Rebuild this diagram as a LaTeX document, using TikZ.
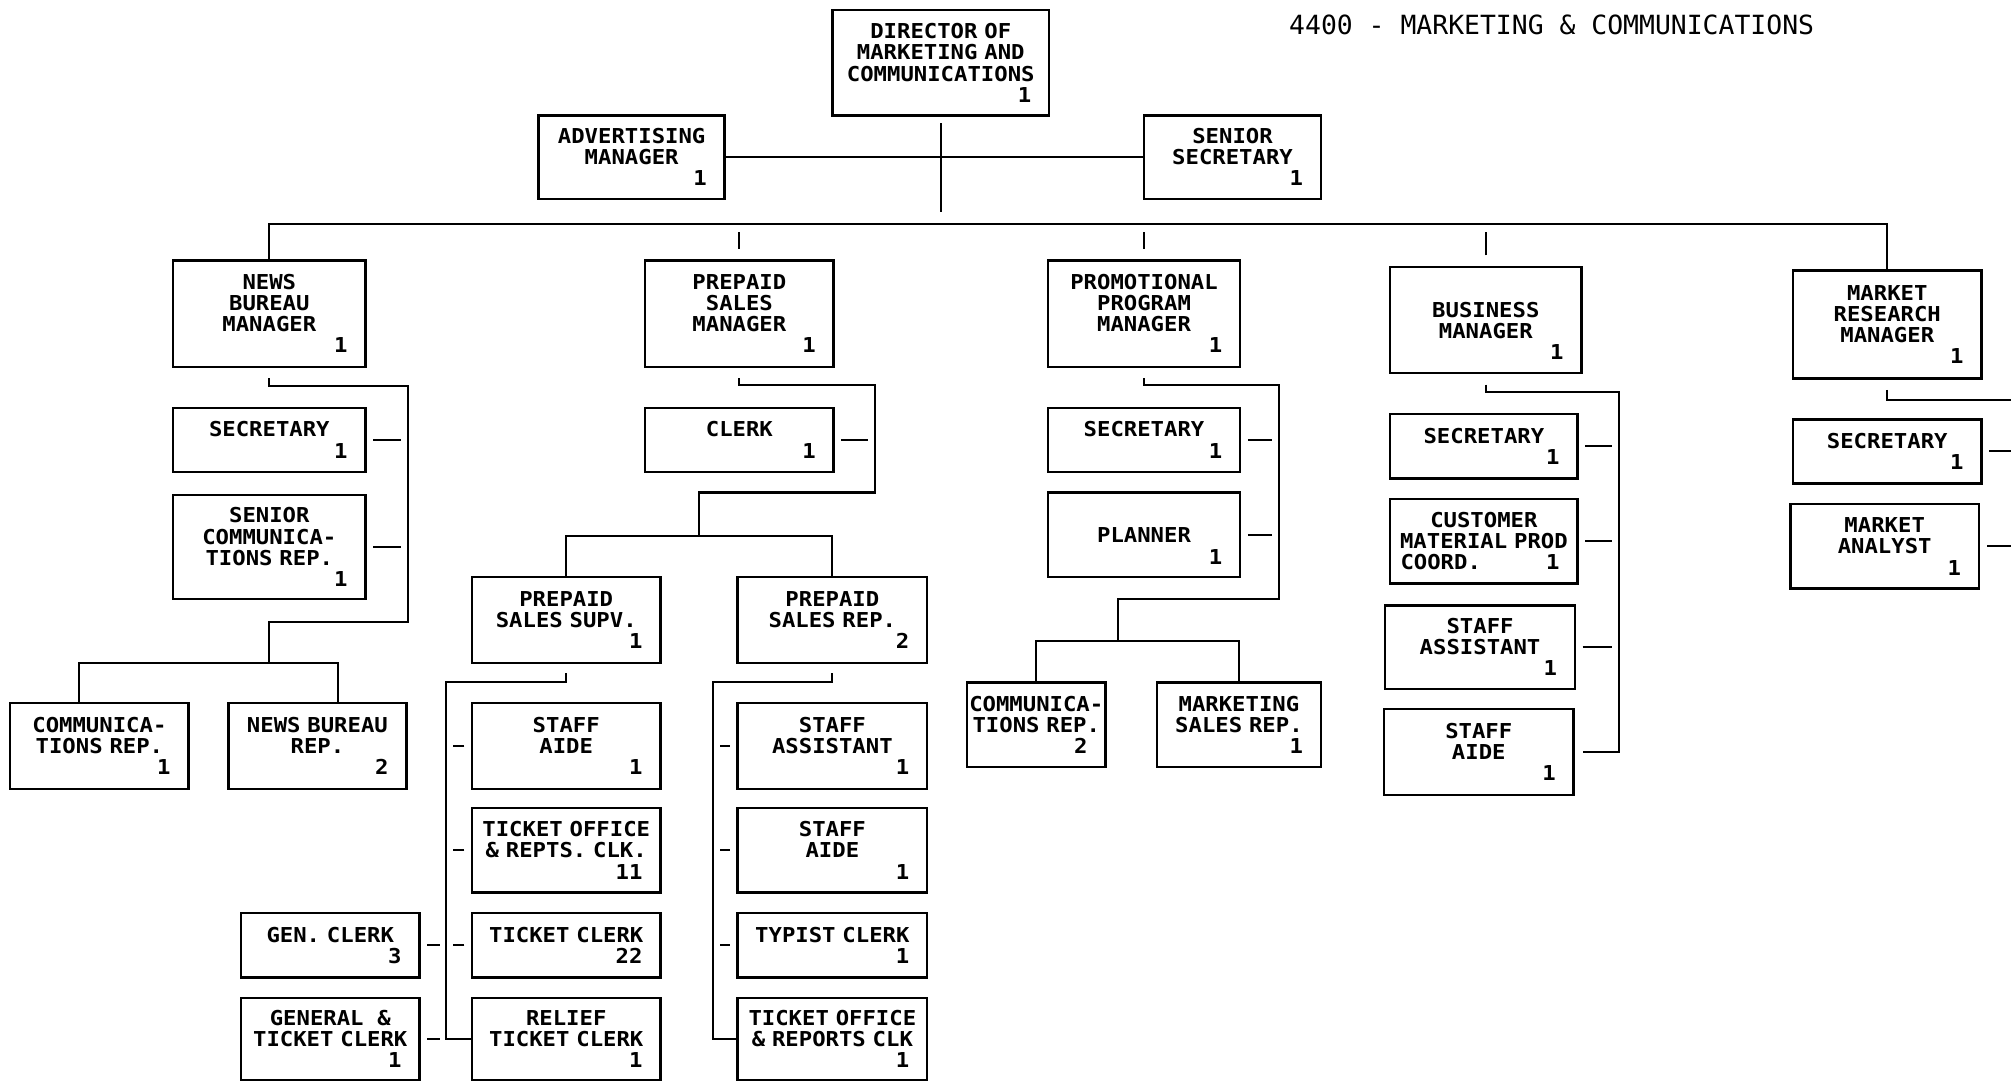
\documentclass[tikz,border=0pt]{standalone}
\usepackage{fontspec}
\newfontfamily\boxfont[FakeStretch=1.085]{DejaVu Sans Mono}
\newfontfamily\titlefont{DejaVu Sans Mono}
\newcommand\posts[1]{\hfill#1\kern14pt}

\begin{document}
\begin{tikzpicture}[x=1pt,y=-1pt,
    box/.style 2 args={draw, line width=1.9pt, minimum width=#1pt, minimum height=#2pt,
      text width=#1pt, inner xsep=0pt, inner ysep=0pt, align=center,
      font=\boxfont\bfseries\fontsize{16}{16.5}\selectfont},
    tick/.style={shorten <=5pt, shorten >=5pt}]
  \useasboundingbox (0,0) rectangle (1568,844);
  \clip (0,0) rectangle (1568,844);

  \node[font=\titlefont\fontsize{20.6}{24}\selectfont, anchor=base west, inner sep=0pt]
    (title) at (1005,27) {4400 - MARKETING \& COMMUNICATIONS};

  % top
  \node[box={169}{82}] (dir) at (733.5,49) {DIRECTOR OF\\MARKETING AND\\COMMUNICATIONS\\\posts{1}};
  \node[box={145}{65}] (adv) at (492.5,122.5) {ADVERTISING\\MANAGER\\\posts{1}};
  \node[box={138}{65}] (ssec) at (961,122.5) {SENIOR\\SECRETARY\\\posts{1}};

  % managers
  \node[box={150}{83}] (nbm) at (210,244.5) {NEWS\\BUREAU\\MANAGER\\\posts{1}};
  \node[box={147}{83}] (ppm) at (576.5,244.5) {PREPAID\\SALES\\MANAGER\\\posts{1}};
  \node[box={150}{83}] (prm) at (892,244.5) {PROMOTIONAL\\PROGRAM\\MANAGER\\\posts{1}};
  \node[box={149}{83}] (bsm) at (1158.5,249.5) {\strut\\BUSINESS\\MANAGER\\\posts{1}};
  \node[box={147}{84}] (mrm) at (1471.5,253) {MARKET\\RESEARCH\\MANAGER\\\posts{1}};

  % news bureau
  \node[box={150}{50}] (nsec) at (210,343) {SECRETARY\\\posts{1}};
  \node[box={150}{81}] (nscr) at (210,426.5) {SENIOR\\COMMUNICA-\\TIONS REP.\\\posts{1}};
  \node[box={139}{67}] (ncr) at (77.5,581.5) {COMMUNICA-\\TIONS REP.\\\posts{1}};
  \node[box={139}{67}] (nbr) at (247.5,581.5) {NEWS BUREAU\\REP.\\\posts{2}};

  % prepaid sales
  \node[box={147}{50}] (pclk) at (576.5,343) {CLERK\\\posts{1}};
  \node[box={147}{67}] (psup) at (441.5,483.5) {PREPAID\\SALES SUPV.\\\posts{1}};
  \node[box={148}{67}] (prep) at (649,483.5) {PREPAID\\SALES REP.\\\posts{2}};
  \node[box={147}{67}] (sa1) at (441.5,581.5) {STAFF\\AIDE\\\posts{1}};
  \node[box={147}{66}] (tor) at (441.5,663) {TICKET OFFICE\\\& REPTS. CLK.\\\posts{11}};
  \node[box={147}{50}] (tc) at (441.5,737) {TICKET CLERK\\\posts{22}};
  \node[box={147}{64}] (rtc) at (441.5,810) {RELIEF\\TICKET CLERK\\\posts{1}};
  \node[box={139}{50}] (gc) at (257.5,737) {GEN. CLERK\\\posts{3}};
  \node[box={139}{64}] (gtc) at (257.5,810) {GENERAL~~\&\\TICKET CLERK\\\posts{1}};
  \node[box={148}{67}] (sas) at (649,581.5) {STAFF\\ASSISTANT\\\posts{1}};
  \node[box={148}{66}] (sa2) at (649,663) {STAFF\\AIDE\\\posts{1}};
  \node[box={148}{50}] (tyc) at (649,737) {TYPIST CLERK\\\posts{1}};
  \node[box={148}{64}] (trc) at (649,810) {TICKET OFFICE\\\& REPORTS CLK\\\posts{1}};

  % promotional program
  \node[box={150}{50}] (psec) at (892,343) {SECRETARY\\\posts{1}};
  \node[box={150}{66}] (pln) at (892,417) {\strut\\PLANNER\\\posts{1}};
  \node[box={108}{66}] (pcr) at (808,565) {COMMUNICA-\\TIONS REP.\\\posts{2}};
  \node[box={128}{66}] (msr) at (966,565) {MARKETING\\SALES REP.\\\posts{1}};

  % business
  \node[box={146}{50}] (bsec) at (1157,348) {SECRETARY\\\posts{1}};
  \node[box={146}{66}] (cmp) at (1157,422) {CUSTOMER\\MATERIAL PROD\\\hspace*{8pt}COORD.\posts{1}};
  \node[box={148}{65}] (bsas) at (1154,504.5) {STAFF\\ASSISTANT\\\posts{1}};
  \node[box={148}{67}] (bsa) at (1153,586.5) {STAFF\\AIDE\\\posts{1}};

  % market research
  \node[box={147}{50}] (msec) at (1471.5,352) {SECRETARY\\\posts{1}};
  \node[box={147}{66}] (man) at (1469.5,426) {MARKET\\ANALYST\\\posts{1}};

  \coordinate (bus) at (0,175);
  \coordinate (n1) at (318,301);
  \coordinate (n2) at (318,485);
  \coordinate (nsub) at (210,517);
  \coordinate (p1) at (682,300);
  \coordinate (p2) at (682,384);
  \coordinate (psub) at (545,418);
  \coordinate (s1) at (348,532);
  \coordinate (r1) at (556,532);
  \coordinate (m1) at (997,300);
  \coordinate (m2) at (997,467);
  \coordinate (msub) at (872,500);
  \coordinate (b1) at (1262,306);
  \coordinate (k1) at (1585,312);

  \begin{scope}[line width=1.6pt]
    \draw[shorten <=5pt, shorten >=10pt] (dir.south) -- (dir.south |- bus);
    \draw (adv) to (ssec);
    \draw (nbm.north) |- (mrm.north |- bus) -- (mrm.north);
    \foreach \m in {ppm,prm,bsm}
      \draw[shorten <=8pt, shorten >=6pt] (\m.north) -- (\m.north |- bus);

    \draw[shorten <=8pt] (nbm.south) |- (n1) -- (n2) -| (nsub);
    \draw (ncr.115) |- (nsub) -| (nbr.65);
    \foreach \m in {nsec,nscr}
      \draw[tick] (\m.east) -- (\m.east -| n1);

    \draw[shorten <=8pt] (ppm.south) |- (p1) -- (p2) -| (psub);
    \draw (psup.north) |- (psub) -| (prep.north);
    \draw[tick] (pclk.east) -- (pclk.east -| p1);
    \draw[shorten <=7pt] (psup.south) |- (s1) |- (rtc.west);
    \foreach \m in {sa1,tor,tc}
      \draw[tick] (\m.west) -- (\m.west -| s1);
    \foreach \m in {gc,gtc}
      \draw[tick] (\m.east) -- (\m.east -| s1);
    \draw[shorten <=7pt] (prep.south) |- (r1) |- (trc.west);
    \foreach \m in {sas,sa2,tyc}
      \draw[tick] (\m.west) -- (\m.west -| r1);

    \draw[shorten <=8pt] (prm.south) |- (m1) -- (m2) -| (msub);
    \draw (pcr.north) |- (msub) -| (msr.north);
    \foreach \m in {psec,pln}
      \draw[tick] (\m.east) -- (\m.east -| m1);

    \draw[shorten <=8pt, shorten >=6pt] (bsm.south) |- (b1) |- (bsa.east);
    \foreach \m in {bsec,cmp,bsas}
      \draw[tick] (\m.east) -- (\m.east -| b1);

    \draw[shorten <=8pt, shorten >=5pt] (mrm.south) |- (k1) |- (man.east);
    \draw[tick] (msec.east) -- (msec.east -| k1);
  \end{scope}
\end{tikzpicture}
\end{document}
